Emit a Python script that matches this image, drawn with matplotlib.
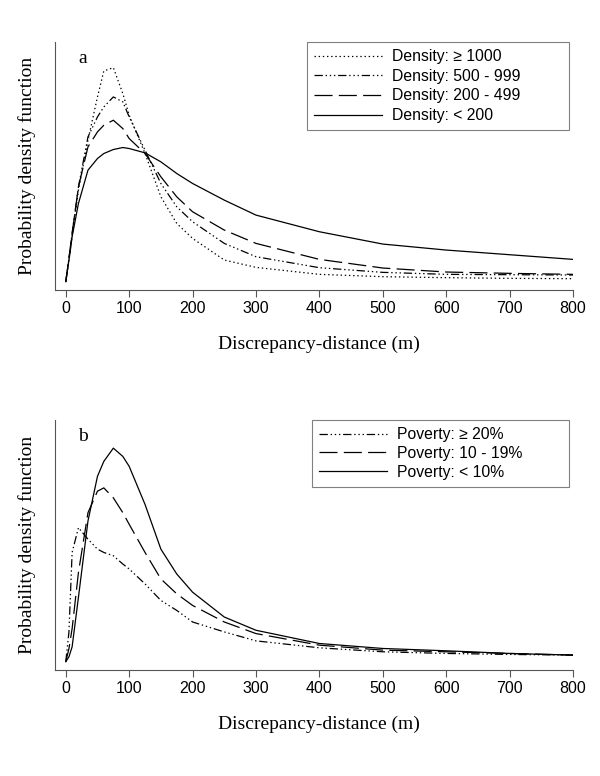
import matplotlib
matplotlib.use("Agg")
import matplotlib.pyplot as plt

plt.rcParams['lines.scale_dashes'] = False

# discrepancy distance (m), shared grid
dist = [0, 5, 10, 20, 35, 50, 60, 75, 90, 100, 125, 150, 175, 200, 250, 300, 400, 500, 600, 700, 800]

# panel a: population density
dens_labels = ['Density: ≥ 1000', 'Density: 500 - 999', 'Density: 200 - 499', 'Density: < 200']
dens_1000 = [0.05, 0.7, 1.4, 2.8, 4.3, 5.6, 6.38, 6.48, 5.7, 5.05, 3.9, 2.6, 1.8, 1.35, 0.7, 0.48, 0.27, 0.2, 0.17, 0.15, 0.14]
dens_500 = [0.05, 0.75, 1.5, 2.9, 4.4, 5.0, 5.3, 5.6, 5.45, 5.0, 4.0, 3.0, 2.3, 1.85, 1.2, 0.8, 0.47, 0.33, 0.27, 0.26, 0.25]
dens_200 = [0.05, 0.75, 1.5, 2.9, 4.1, 4.55, 4.75, 4.9, 4.65, 4.35, 3.9, 3.2, 2.6, 2.15, 1.6, 1.2, 0.72, 0.46, 0.34, 0.3, 0.27]
dens_lt200 = [0.05, 0.7, 1.4, 2.4, 3.4, 3.75, 3.9, 4.02, 4.08, 4.05, 3.92, 3.65, 3.3, 3.0, 2.5, 2.05, 1.55, 1.18, 1.0, 0.86, 0.72]

# panel b: poverty
pov_labels = ['Poverty: ≥ 20%', 'Poverty: 10 - 19%', 'Poverty: < 10%']
pov_20 = [0.0, 0.9, 3.3, 4.05, 3.7, 3.4, 3.3, 3.2, 2.95, 2.8, 2.35, 1.85, 1.55, 1.2, 0.9, 0.63, 0.42, 0.3, 0.25, 0.22, 0.2]
pov_10 = [0.0, 0.4, 1.0, 2.7, 4.5, 5.15, 5.25, 4.95, 4.5, 4.15, 3.3, 2.5, 2.05, 1.7, 1.2, 0.85, 0.5, 0.35, 0.3, 0.25, 0.2]
pov_lt10 = [0.0, 0.15, 0.45, 1.95, 4.25, 5.6, 6.05, 6.45, 6.2, 5.9, 4.75, 3.4, 2.65, 2.1, 1.35, 0.95, 0.55, 0.4, 0.33, 0.25, 0.2]

dotted = (0, (1, 2))
dashdotdot = (0, (6, 2, 1, 2, 1, 2, 1, 2))
dashed = (0, (13, 4.5))
solid = '-'

fig = plt.figure(figsize=(6, 7.76), dpi=100)
L, R = 55, 573
ax1 = fig.add_axes([L/600, 1-290/776, (R-L)/600, (290-42)/776])
ax2 = fig.add_axes([L/600, 1-670/776, (R-L)/600, (670-420)/776])

serif = 'Liberation Serif'
sans = 'Liberation Sans'

def style(ax, ylim, letter):
    ax.set_xlim(-17, 800)
    ax.set_ylim(*ylim)
    for s in ['top', 'right']:
        ax.spines[s].set_visible(False)
    for s in ['left', 'bottom']:
        ax.spines[s].set_color('#555555')
        ax.spines[s].set_linewidth(0.8)
    ax.set_yticks([])
    ax.set_xticks(range(0, 801, 100))
    ax.tick_params(axis='x', length=5, width=0.8, color='#555555', labelsize=11.5, pad=3)
    for t in ax.get_xticklabels():
        t.set_fontfamily(sans)
    ax.set_xlabel('Discrepancy-distance (m)', fontsize=14, family=serif, labelpad=14, x=0.51)
    ax.set_ylabel('Probability density function', fontsize=14, family=serif, labelpad=14)
    ax.text(0.045, 0.935, letter, transform=ax.transAxes, fontsize=14, family=serif, va='center')

ax1.plot(dist, dens_1000, color='black', lw=0.9, linestyle=dotted, label=dens_labels[0])
ax1.plot(dist, dens_500, color='black', lw=0.9, linestyle=dashdotdot, label=dens_labels[1])
ax1.plot(dist, dens_200, color='black', lw=0.9, linestyle=dashed, label=dens_labels[2])
ax1.plot(dist, dens_lt200, color='black', lw=0.9, linestyle=solid, label=dens_labels[3])
style(ax1, (-0.2, 7.25), 'a')

ax2.plot(dist, pov_20, color='black', lw=0.9, linestyle=dashdotdot, label=pov_labels[0])
ax2.plot(dist, pov_10, color='black', lw=0.9, linestyle=dashed, label=pov_labels[1])
ax2.plot(dist, pov_lt10, color='black', lw=0.9, linestyle=solid, label=pov_labels[2])
style(ax2, (-0.25, 7.3), 'b')

w = R - L
for ax, x0, spacing in ((ax1, 307, 0.3), (ax2, 312, 0.25)):
    leg = ax.legend(loc='upper left', bbox_to_anchor=((x0-L)/w, 0, (569-x0)/w, 1.0),
                    mode='expand', borderaxespad=0,
                    fancybox=False, framealpha=1, edgecolor='#808080',
                    prop={'family': sans, 'size': 11.3}, handlelength=4.3,
                    handletextpad=0.65, labelspacing=spacing, borderpad=0.45)
    leg.get_frame().set_linewidth(0.8)

fig.savefig('out.png', dpi=100)
